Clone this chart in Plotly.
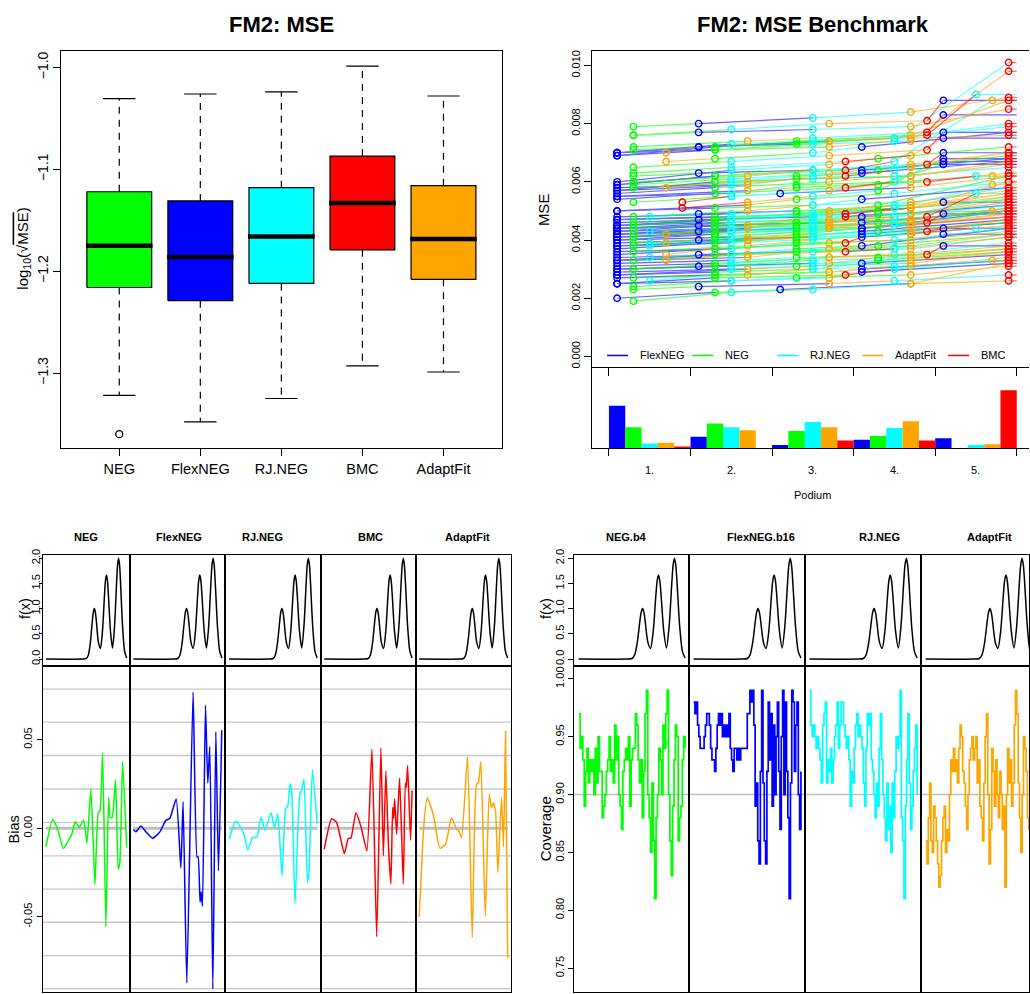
import numpy as np
import plotly.graph_objects as go

W, H = 1030, 994
FONT = "Liberation Sans, Arial, Helvetica, sans-serif"

# ---------------- data: top-left boxplot ----------------
box_methods = ["NEG", "FlexNEG", "RJ.NEG", "BMC", "AdaptFit"]
box_colors = ["#00ff00", "#0000ff", "#00ffff", "#ff0000", "#ffa500"]
box_upper = [-1.0305, -1.026, -1.024, -0.9987, -1.028]
box_q3 = [-1.122, -1.131, -1.118, -1.087, -1.116]
box_median = [-1.175, -1.186, -1.166, -1.133, -1.1685]
box_q1 = [-1.216, -1.229, -1.212, -1.179, -1.208]
box_lower = [-1.322, -1.348, -1.325, -1.293, -1.299]
outlier_method = ["NEG"]
outlier_value = [-1.360]

# ---------------- data: benchmark (MSE x 1e-4 per replicate) ----------------
bench_methods = ["FlexNEG", "NEG", "RJ.NEG", "AdaptFit", "BMC"]
bench_colors = ["#0000ff", "#00ff00", "#00ffff", "#ffa500", "#ff0000"]
mse_flexneg = [70, 69, 59, 57, 50, 47, 45, 43, 42, 41, 39, 37, 33, 30, 28, 20, 69, 56, 46, 44,
               40, 35, 31, 27, 70, 58, 55, 48, 45, 43, 42, 40, 38, 36, 32, 29, 25, 60, 47, 41,
               34, 30, 57, 44, 38, 28, 50, 42, 33, 80, 77, 63, 47, 40, 31, 72, 45, 24, 64, 46,
               29, 23, 56, 54, 42, 32, 49, 35, 48, 30, 44, 43, 72, 43, 72, 44, 63, 38, 88, 77,
               49, 38, 83, 70, 44, 75, 53, 67, 42, 66, 68, 70, 42, 55, 41, 59, 54, 45, 25, 44]
mse_neg = [71, 72, 62, 60, 51, 48, 46, 45, 44, 42, 40, 39, 35, 31, 29, 22, 71, 58, 47, 45,
           42, 37, 32, 28, 74, 61, 59, 50, 49, 46, 45, 43, 40, 39, 34, 31, 27, 68, 52, 46,
           38, 34, 64, 50, 43, 33, 54, 46, 36, 79, 76, 62, 46, 39, 30, 71, 44, 23, 59, 42,
           24, 19, 53, 48, 36, 27, 50, 36, 44, 28, 42, 41, 73, 44, 68, 41, 62, 37, 76, 65,
           41, 30, 72, 60, 38, 63, 45, 58, 33, 59, 57, 72, 44, 58, 37, 62, 56, 47, 27, 49]
mse_rjneg = [73, 74, 64, 61, 52, 49, 47, 46, 45, 44, 42, 41, 36, 33, 30, 23, 74, 62, 52, 48,
             45, 40, 35, 31, 73, 59, 56, 49, 47, 44, 43, 41, 39, 37, 33, 30, 26, 64, 48, 43,
             35, 31, 62, 48, 42, 31, 56, 48, 37, 82, 78, 64, 48, 41, 32, 75, 48, 26, 61, 43,
             26, 22, 55, 52, 40, 30, 48, 34, 43, 26, 39, 38, 75, 46, 70, 43, 60, 35, 78, 67,
             43, 32, 75, 64, 41, 65, 47, 64, 37, 55, 55, 90, 56, 62, 44, 67, 60, 51, 30, 46]
mse_adaptfit = [74, 75, 66, 62, 53, 51, 49, 47, 46, 45, 43, 42, 37, 34, 31, 25, 72, 60, 50, 47,
                44, 39, 34, 29, 76, 62, 60, 52, 51, 47, 46, 45, 42, 40, 35, 32, 28, 66, 49, 44,
                37, 32, 59, 45, 40, 30, 52, 44, 34, 84, 79, 65, 49, 42, 33, 74, 46, 25, 63, 45,
                27, 25, 58, 50, 38, 28, 51, 38, 46, 29, 41, 40, 70, 42, 67, 39, 58, 33, 80, 69,
                45, 34, 74, 62, 40, 69, 51, 60, 35, 57, 53, 74, 46, 57, 35, 88, 62, 59, 33, 50]
mse_bmc = [98, 76, 70, 67, 57, 55, 53, 51, 49, 48, 47, 45, 41, 37, 34, 26, 101, 65, 58, 52,
           50, 44, 39, 33, 88, 66, 63, 56, 60, 51, 48, 49, 47, 43, 38, 36, 31, 72, 62, 50,
           42, 37, 69, 54, 46, 36, 60, 55, 41, 89, 85, 70, 54, 45, 36, 80, 53, 28, 68, 50,
           32, 32, 62, 58, 46, 35, 56, 42, 52, 33, 50, 47, 79, 51, 77, 48, 67, 44, 81, 71,
           46, 35, 77, 66, 43, 67, 49, 62, 36, 53, 51, 76, 48, 60, 39, 64, 58, 49, 28, 48]

podium_labels = ["1.", "2.", "3.", "4.", "5."]
podium_flexneg = [57, 15, 4, 11, 13]
podium_neg = [28, 33, 23, 16, 0]
podium_rjneg = [6, 28, 35, 27, 4]
podium_adaptfit = [7, 24, 28, 36, 5]
podium_bmc = [2, 0, 10, 10, 78]

# ---------------- data: true function f(x) ----------------
fx_x = [0, 0.45, 0.5, 0.525, 0.55, 0.5625, 0.575, 0.5875, 0.6, 0.6125, 0.625, 0.65, 0.675, 0.7,
        0.725, 0.7375, 0.75, 0.7625, 0.775, 0.8, 0.825, 0.85, 0.875, 0.8875, 0.9, 0.9125,
        0.925, 0.95, 0.975, 1.0]
fx_y = [0, 0.0, 0.01, 0.076, 0.317, 0.524, 0.75, 0.931, 1.0, 0.931, 0.751, 0.334, 0.21, 0.538,
        1.25, 1.552, 1.667, 1.552, 1.25, 0.548, 0.22, 0.65, 1.5, 1.862, 2.0, 1.862, 1.5,
        0.634, 0.151, 0.02]

# ---------------- data: bias ----------------
bias_titles = ["NEG", "FlexNEG", "RJ.NEG", "BMC", "AdaptFit"]
bias_colors = ["#00ff00", "#0000ff", "#00ffff", "#ff0000", "#ffa500"]
bias_neg_x = [0, 0.084, 0.153, 0.215, 0.319, 0.363, 0.413, 0.467, 0.508, 0.557, 0.607, 0.648,
              0.669, 0.702, 0.743, 0.776, 0.796, 0.821, 0.863, 0.895, 0.916, 0.950, 1.0]
bias_neg_y = [-0.0105, 0.005, -0.0015, -0.0114, -0.0034, 0.0037, 0.0007, 0.0045, -0.0082,
              0.0224, -0.0317, 0.0088, 0.0097, 0.0427, -0.0556, 0.0175, 0.006, 0.0063, 0.0274,
              -0.023, -0.0192, 0.0377, -0.0108]
bias_flexneg_x = [0, 0.028, 0.084, 0.148, 0.216, 0.299, 0.366, 0.411, 0.483, 0.536, 0.561,
                  0.603, 0.674, 0.719, 0.731, 0.753, 0.765, 0.780, 0.814, 0.840, 0.863, 0.897,
                  0.931, 0.961, 0.998]
bias_flexneg_y = [-0.0006, -0.002, 0.0013, -0.0024, -0.0056, -0.002, 0.0045, 0.0056, 0.0166,
                  -0.0224, 0.015, -0.0873, 0.0769, -0.0164, -0.016, -0.0416, -0.036, -0.044,
                  0.0694, 0.0256, 0.0461, -0.0907, 0.0545, -0.0239, 0.0553]
bias_rjneg_x = [0, 0.077, 0.145, 0.175, 0.213, 0.266, 0.315, 0.363, 0.409, 0.477, 0.515, 0.553,
                0.601, 0.643, 0.666, 0.692, 0.711, 0.749, 0.805, 0.825, 0.851, 0.889, 0.907,
                0.946, 1.0]
bias_rjneg_y = [-0.0062, 0.0041, -0.0006, -0.0043, -0.0123, -0.0052, -0.0049, 0.0063, -0.001,
                0.0088, 0.0004, 0.0082, -0.0269, 0.0112, 0.0125, 0.0252, 0.0209, -0.0426, 0.02,
                0.0213, 0.0278, -0.0304, -0.0248, 0.0334, 0.0026]
bias_bmc_x = [0, 0.085, 0.142, 0.229, 0.275, 0.304, 0.361, 0.418, 0.486, 0.543, 0.597, 0.645,
              0.673, 0.702, 0.730, 0.759, 0.779, 0.790, 0.801, 0.824, 0.858, 0.900, 0.923,
              0.934, 0.949, 0.983, 1.0]
bias_bmc_y = [-0.0118, 0.0054, 0.0032, -0.0142, -0.0056, -0.0056, 0.0088, 0.001, -0.0127,
              0.0446, -0.0612, 0.0455, -0.0155, 0.0325, -0.009, -0.0314, 0.0119, 0.0056, 0.0166,
              -0.0034, 0.0284, -0.0314, 0.0256, 0.0231, 0.0354, -0.0067, 0.0213]
bias_adaptfit_x = [0, 0.03, 0.05, 0.092, 0.160, 0.234, 0.299, 0.366, 0.423, 0.449, 0.479, 0.547,
                   0.600, 0.648, 0.668, 0.697, 0.747, 0.792, 0.818, 0.837, 0.863, 0.889, 0.931,
                   0.953, 0.976, 1.0]
bias_adaptfit_y = [-0.05, -0.02, 0.0, 0.0172, 0.0078, -0.0112, -0.009, 0.006, -0.0006, -0.0015,
                   -0.0052, 0.0405, -0.0616, 0.025, 0.0256, 0.0377, -0.0497, 0.0194, 0.0116,
                   0.0144, 0.0097, -0.0248, 0.0175, -0.0105, 0.0549, -0.0733]
bias_grid = [0.0786, 0.0599, 0.0411, 0.0222, 0.0034, -0.0155, -0.0343, -0.0530, -0.0718, -0.0905]
bias_ticks = [-0.05, 0.0, 0.05]

# ---------------- data: coverage ----------------
cov_titles = ["NEG.b4", "FlexNEG.b16", "RJ.NEG", "AdaptFit"]
cov_colors = ["#00ff00", "#0000ff", "#00ffff", "#ffa500"]
cov_neg_b4 = [0.97, 0.94, 0.95, 0.93, 0.89, 0.92, 0.94, 0.91, 0.93, 0.92,
              0.93, 0.90, 0.94, 0.91, 0.95, 0.92, 0.92, 0.88, 0.89, 0.90,
              0.92, 0.93, 0.95, 0.92, 0.93, 0.91, 0.96, 0.93, 0.95, 0.90,
              0.89, 0.87, 0.92, 0.93, 0.94, 0.93, 0.95, 0.89, 0.93, 0.94,
              0.94, 0.97, 0.96, 0.93, 0.91, 0.93, 0.88, 0.92, 0.97, 0.99,
              0.90, 0.88, 0.85, 0.91, 0.86, 0.81, 0.88, 0.90, 0.94, 0.93,
              0.90, 0.96, 0.94, 0.97, 0.99, 0.90, 0.86, 0.83, 0.89, 0.93,
              0.96, 0.95, 0.86, 0.88, 0.89, 0.93, 0.95, 0.94]
cov_flexneg_b16 = [0.98, 0.97, 0.98, 0.96, 0.95, 0.94, 0.94, 0.94, 0.95, 0.96,
                   0.97, 0.97, 0.96, 0.94, 0.93, 0.93, 0.92, 0.94, 0.96, 0.97,
                   0.96, 0.97, 0.95, 0.96, 0.95, 0.96, 0.95, 0.97, 0.94, 0.93,
                   0.92, 0.94, 0.94, 0.93, 0.94, 0.93, 0.94, 0.94, 0.94, 0.94,
                   0.94, 0.97, 0.97, 0.99, 0.98, 0.99, 0.96, 0.89, 0.91, 0.86,
                   0.84, 0.92, 0.99, 0.91, 0.86, 0.84, 0.92, 0.98, 0.93, 0.97,
                   0.89, 0.96, 0.90, 0.95, 0.98, 0.92, 0.87, 0.95, 0.99, 0.90,
                   0.98, 0.92, 0.88, 0.81, 0.91, 0.99, 0.98, 0.92, 0.96, 0.98,
                   0.90, 0.87, 0.92]
cov_rjneg = [0.99, 0.96, 0.95, 0.96, 0.95, 0.94, 0.95, 0.94, 0.93, 0.91,
             0.96, 0.97, 0.98, 0.91, 0.93, 0.92, 0.94, 0.91, 0.93, 0.95,
             0.96, 0.98, 0.94, 0.96, 0.98, 0.98, 0.96, 0.95, 0.94, 0.95,
             0.93, 0.89, 0.92, 0.91, 0.94, 0.96, 0.97, 0.95, 0.96, 0.95,
             0.94, 0.91, 0.89, 0.94, 0.97, 0.96, 0.97, 0.93, 0.92, 0.90,
             0.88, 0.91, 0.89, 0.94, 0.97, 0.93, 0.90, 0.88, 0.86, 0.91,
             0.87, 0.89, 0.85, 0.91, 0.88, 0.92, 0.95, 0.94, 0.95, 0.99,
             0.88, 0.86, 0.81, 0.89, 0.93, 0.97, 0.91, 0.87, 0.89, 0.92,
             0.94, 0.96, 0.90]
cov_adaptfit = [0.86, 0.84, 0.88, 0.91, 0.86, 0.85, 0.89, 0.88, 0.86, 0.84,
                0.82, 0.83, 0.86, 0.88, 0.89, 0.85, 0.87, 0.86, 0.90, 0.93,
                0.92, 0.94, 0.92, 0.93, 0.91, 0.94, 0.96, 0.95, 0.92, 0.91,
                0.89, 0.87, 0.90, 0.93, 0.94, 0.95, 0.93, 0.94, 0.95, 0.91,
                0.93, 0.89, 0.88, 0.86, 0.91, 0.95, 0.97, 0.90, 0.84, 0.87,
                0.94, 0.92, 0.89, 0.93, 0.90, 0.88, 0.92, 0.90, 0.87, 0.89,
                0.82, 0.90, 0.94, 0.91, 0.93, 0.89, 0.91, 0.96, 0.99, 0.97,
                0.91, 0.88, 0.85, 0.90, 0.95, 0.94, 0.92, 0.88, 0.87, 0.90,
                0.92, 0.93]
cov_ticks = [0.75, 0.80, 0.85, 0.90, 0.95, 1.00]
cov_nominal = 0.90


# ---------------- helpers ----------------
def xdom(a, b):
    return [a / W, min(b / W, 1.0)]


def ydom(top, bot):
    return [max(1 - bot / H, 0.0), 1 - top / H]


def px_x(a):
    return a / W


def px_y(a):
    return 1 - a / H


def label(text, x, y, size, angle=0, bold=False, xanchor="center"):
    return dict(text=("<b>" + text + "</b>") if bold else text, x=px_x(x), y=px_y(y),
                xref="paper", yref="paper", xanchor=xanchor, yanchor="middle", textangle=angle,
                showarrow=False, font=dict(family=FONT, size=size, color="black"))


layout = {}
base = dict(showgrid=False, zeroline=False, showline=True, linecolor="black", linewidth=1.0,
            ticks="", showticklabels=False, mirror=True, fixedrange=True,
            tickfont=dict(family=FONT, size=11, color="black"), tickcolor="black", tickwidth=1.0)


def add_axes(n, xd, yd, xr, yr, xkw=None, ykw=None):
    xs = "" if n == 1 else str(n)
    xa = dict(base, domain=xd, range=xr, anchor="y" + xs)
    ya = dict(base, domain=yd, range=yr, anchor="x" + xs)
    if xkw:
        xa.update(xkw)
    if ykw:
        ya.update(ykw)
    layout["xaxis" + xs] = xa
    layout["yaxis" + xs] = ya
    return "x" + xs, "y" + xs


fig = go.Figure()
annotations = []
shapes = []

# ================= Panel 1: boxplot =================
xa, ya = add_axes(
    1, xdom(61.3, 502), ydom(45.7, 446), [0.284, 5.716], [-1.37402, -0.98412],
    xkw=dict(ticks="outside", ticklen=7, tickvals=[1, 2, 3, 4, 5], ticktext=box_methods,
             showticklabels=True, tickfont=dict(family=FONT, size=14.5, color="black")),
    ykw=dict(ticks="outside", ticklen=7, tickvals=[-1.3, -1.2, -1.1, -1.0], tickformat=".1f",
             showticklabels=True, tickangle=-90,
             tickfont=dict(family=FONT, size=14, color="black")))
for i, name in enumerate(box_methods):
    c = i + 1
    fig.add_trace(go.Scatter(x=[c, c, None, c, c], y=[box_q3[i], box_upper[i], None, box_q1[i], box_lower[i]],
                             mode="lines", line=dict(color="black", width=1.2, dash="7px,6px"),
                             xaxis=xa, yaxis=ya, hoverinfo="skip"))
    fig.add_trace(go.Scatter(x=[c - 0.2, c + 0.2, None, c - 0.2, c + 0.2],
                             y=[box_upper[i], box_upper[i], None, box_lower[i], box_lower[i]],
                             mode="lines", line=dict(color="black", width=1.2), xaxis=xa, yaxis=ya))
    fig.add_trace(go.Scatter(x=[c - 0.4, c + 0.4, c + 0.4, c - 0.4, c - 0.4],
                             y=[box_q1[i], box_q1[i], box_q3[i], box_q3[i], box_q1[i]],
                             mode="lines", fill="toself", fillcolor=box_colors[i],
                             line=dict(color="black", width=1.2), xaxis=xa, yaxis=ya))
    fig.add_trace(go.Scatter(x=[c - 0.41, c + 0.41], y=[box_median[i], box_median[i]], mode="lines",
                             line=dict(color="black", width=4.5), xaxis=xa, yaxis=ya))
fig.add_trace(go.Scatter(x=[box_methods.index(m) + 1 for m in outlier_method], y=outlier_value,
                         mode="markers", marker=dict(symbol="circle-open", size=7, color="black",
                                                     line=dict(width=1.3)),
                         xaxis=xa, yaxis=ya))
annotations.append(label("FM2: MSE", 281.7, 18.3, 22, bold=True))
annotations.append(label("log<sub>10</sub>(√<span style='text-decoration:overline'>MSE</span>)",
                         22.7, 245, 15, angle=-90))

# ================= Panel 2: benchmark lines =================
slot_bounds = [-0.5, 4.5, 9.5, 14.5, 19.5, 24.5]
xr_bench = [-1.513, 25.25]
xa2, ya2 = add_axes(
    2, xdom(593, 1030), ydom(45.7, 363.5), xr_bench, [-0.000348, 0.010486],
    xkw=dict(ticks="outside", ticklen=8, tickvals=slot_bounds, showticklabels=False, mirror=True),
    ykw=dict(ticks="outside", ticklen=7, tickvals=[0, 0.002, 0.004, 0.006, 0.008, 0.010],
             ticktext=["0.000", "0.002", "0.004", "0.006", "0.008", "0.010"], showticklabels=True,
             tickangle=-90, mirror=False, tickfont=dict(family=FONT, size=11, color="black")))

mse_table = np.array([mse_flexneg, mse_neg, mse_rjneg, mse_adaptfit, mse_bmc], dtype=float) * 1e-4
seg_x = [[] for _ in range(5)]
seg_y = [[] for _ in range(5)]
pt_x = [[] for _ in range(5)]
pt_y = [[] for _ in range(5)]
for j in range(mse_table.shape[1]):
    vals = mse_table[:, j]
    order = np.argsort(vals)
    xs = [5 * r + int(m) for r, m in enumerate(order)]
    ys = [float(vals[m]) for m in order]
    for r in range(5):
        m = int(order[r])
        pt_x[m].append(xs[r])
        pt_y[m].append(ys[r])
        if r < 4:
            seg_x[m] += [xs[r], xs[r + 1], None]
            seg_y[m] += [ys[r], ys[r + 1], None]
        else:
            seg_x[m] += [xs[r], slot_bounds[-1], None]
            seg_y[m] += [ys[r], ys[r], None]
for m in range(5):
    fig.add_trace(go.Scatter(x=seg_x[m], y=seg_y[m], mode="lines", opacity=0.6,
                             line=dict(color=bench_colors[m], width=1.2), xaxis=xa2, yaxis=ya2))
for m in range(5):
    fig.add_trace(go.Scatter(x=pt_x[m], y=pt_y[m], mode="markers",
                             marker=dict(symbol="circle-open", size=6.5, color=bench_colors[m],
                                         line=dict(width=1.4)),
                             xaxis=xa2, yaxis=ya2))
leg_line_x = [607.7, 693, 778, 863, 949]
for m in range(5):
    shapes.append(dict(type="line", xref="paper", yref="paper", x0=px_x(leg_line_x[m]),
                       x1=px_x(leg_line_x[m] + 21), y0=px_y(352.3), y1=px_y(352.3),
                       line=dict(color=bench_colors[m], width=1.5)))
    annotations.append(label(bench_methods[m], leg_line_x[m] + 30.5, 352.3, 11, xanchor="left"))
annotations.append(label("FM2: MSE Benchmark", 814, 18.3, 22, bold=True))
annotations.append(label("MSE", 544.3, 205, 15, angle=-90))

# ================= Panel 3: podium bars =================
xa3, ya3 = add_axes(
    3, xdom(593, 1030), ydom(363.5, 445.5), xr_bench, [0, 110],
    xkw=dict(ticks="outside", ticklen=7, tickvals=slot_bounds, showticklabels=False, mirror=False),
    ykw=dict(mirror=False))
podium_counts = [podium_flexneg, podium_neg, podium_rjneg, podium_adaptfit, podium_bmc]
for m in range(5):
    fig.add_trace(go.Bar(x=[5 * p + m for p in range(5)], y=podium_counts[m], width=1.0,
                         marker=dict(color=bench_colors[m], line=dict(width=0)),
                         xaxis=xa3, yaxis=ya3))
for p, lab in enumerate(podium_labels):
    annotations.append(dict(text=lab, x=5 * p + 2, y=px_y(467.7), xref=xa3, yref="paper",
                            xanchor="center", yanchor="middle",
                            showarrow=False, font=dict(family=FONT, size=11, color="black")))
annotations.append(label("Podium", 813, 493, 11))

# ================= Bottom-left: f(x) + bias =================
left_edges = [42.7, 130, 225.7, 321, 416, 511.7]
left_title_x = [86, 179, 263, 371, 468]
fx_range = [-0.1122, 2.0669]
bias_range = [-0.09238, 0.09087]
bias_x = [bias_neg_x, bias_flexneg_x, bias_rjneg_x, bias_bmc_x, bias_adaptfit_x]
bias_y = [bias_neg_y, bias_flexneg_y, bias_rjneg_y, bias_bmc_y, bias_adaptfit_y]
fx_ykw = dict(ticks="outside", ticklen=5, tickvals=[0, 0.5, 1.0, 1.5, 2.0], tickformat=".1f",
              showticklabels=True, tickangle=-90, tickfont=dict(family=FONT, size=11, color="black"))
fx_ykw_left = dict(fx_ykw, ticklen=3, ticklabelstandoff=-6)
for i in range(5):
    xd = xdom(left_edges[i], left_edges[i + 1])
    xa_f, ya_f = add_axes(4 + i, xd, ydom(553.3, 664), [-0.04, 1.04], fx_range,
                          ykw=fx_ykw_left if i == 0 else None)
    fig.add_trace(go.Scatter(x=fx_x, y=fx_y, mode="lines",
                             line=dict(color="black", width=1.5, shape="spline", smoothing=0.8),
                             xaxis=xa_f, yaxis=ya_f))
    bykw = None
    if i == 0:
        bykw = dict(ticks="outside", ticklen=5, tickvals=bias_ticks, ticktext=["-0.05", "0.00", "0.05"],
                    showticklabels=True, tickangle=-90, tickfont=dict(family=FONT, size=11, color="black"))
    xa_b, ya_b = add_axes(9 + i, xd, ydom(666.7, 994), [-0.04, 1.04], bias_range, ykw=bykw)
    shapes.append(dict(type="line", xref=xa_b, yref=ya_b, x0=0, x1=1, y0=0, y1=0, layer="below",
                       line=dict(color="#bebebe", width=3)))
    fig.add_trace(go.Scatter(x=bias_x[i], y=bias_y[i], mode="lines",
                             line=dict(color=bias_colors[i], width=1.5, shape="spline", smoothing=0.5),
                             xaxis=xa_b, yaxis=ya_b))
    annotations.append(label(bias_titles[i], left_title_x[i], 535, 11, bold=True))
for g in bias_grid:
    shapes.append(dict(type="line", xref="paper", yref="y9", x0=px_x(42.7), x1=px_x(511.7), y0=g, y1=g,
                       layer="below", line=dict(color="#c8c8c8", width=1.3)))
annotations.append(label("f(x)", 24.5, 607.5, 14.5, angle=-90))
annotations.append(label("Bias", 14.2, 830, 14.5, angle=-90))

# ================= Bottom-right: f(x) + coverage =================
right_edges = [575, 690, 806, 922.3, 1038]
right_title_x = [627.5, 762, 880, 990]
cov_series = [cov_neg_b4, cov_flexneg_b16, cov_rjneg, cov_adaptfit]
cov_range = [0.7294, 1.00995]
for i in range(4):
    a, b = right_edges[i], right_edges[i + 1]
    xr = [-0.04, 1.04]
    if b > W:
        xr = [-0.04, -0.04 + 1.08 * (W - a) / (b - a)]
        b = W
    xd = xdom(a, b)
    xa_f, ya_f = add_axes(14 + i, xd, ydom(553.3, 664), xr, fx_range,
                          ykw=fx_ykw if i == 0 else None)
    fig.add_trace(go.Scatter(x=fx_x, y=fx_y, mode="lines",
                             line=dict(color="black", width=1.5, shape="spline", smoothing=0.8),
                             xaxis=xa_f, yaxis=ya_f))
    cykw = None
    if i == 0:
        cykw = dict(ticks="outside", ticklen=5, tickvals=cov_ticks, tickformat=".2f", showticklabels=True,
                    tickangle=-90, tickfont=dict(family=FONT, size=11, color="black"))
    xa_c, ya_c = add_axes(18 + i, xd, ydom(666.7, 994), xr, cov_range, ykw=cykw)
    vals = cov_series[i]
    grid = np.linspace(0, 1, len(vals))
    fig.add_trace(go.Scatter(x=grid, y=vals, mode="lines",
                             line=dict(color=cov_colors[i], width=1.7, shape="hv"),
                             xaxis=xa_c, yaxis=ya_c))
    annotations.append(label(cov_titles[i], right_title_x[i], 535, 11, bold=True))
shapes.append(dict(type="line", xref="paper", yref="y18", x0=px_x(575), x1=1.0, y0=cov_nominal, y1=cov_nominal,
                   layer="below", line=dict(color="#c0c0c0", width=1.5)))
annotations.append(label("f(x)", 546, 607.5, 14.5, angle=-90))
annotations.append(label("Coverage", 545.5, 829, 15, angle=-90))

fig.update_layout(**layout)
fig.update_layout(width=W, height=H, margin=dict(l=0, r=0, t=0, b=0), showlegend=False,
                  paper_bgcolor="white", plot_bgcolor="white", barmode="overlay",
                  annotations=annotations, shapes=shapes, hovermode=False,
                  font=dict(family=FONT, color="black"))
fig.write_html("out.html", config={"displayModeBar": False, "staticPlot": True})
